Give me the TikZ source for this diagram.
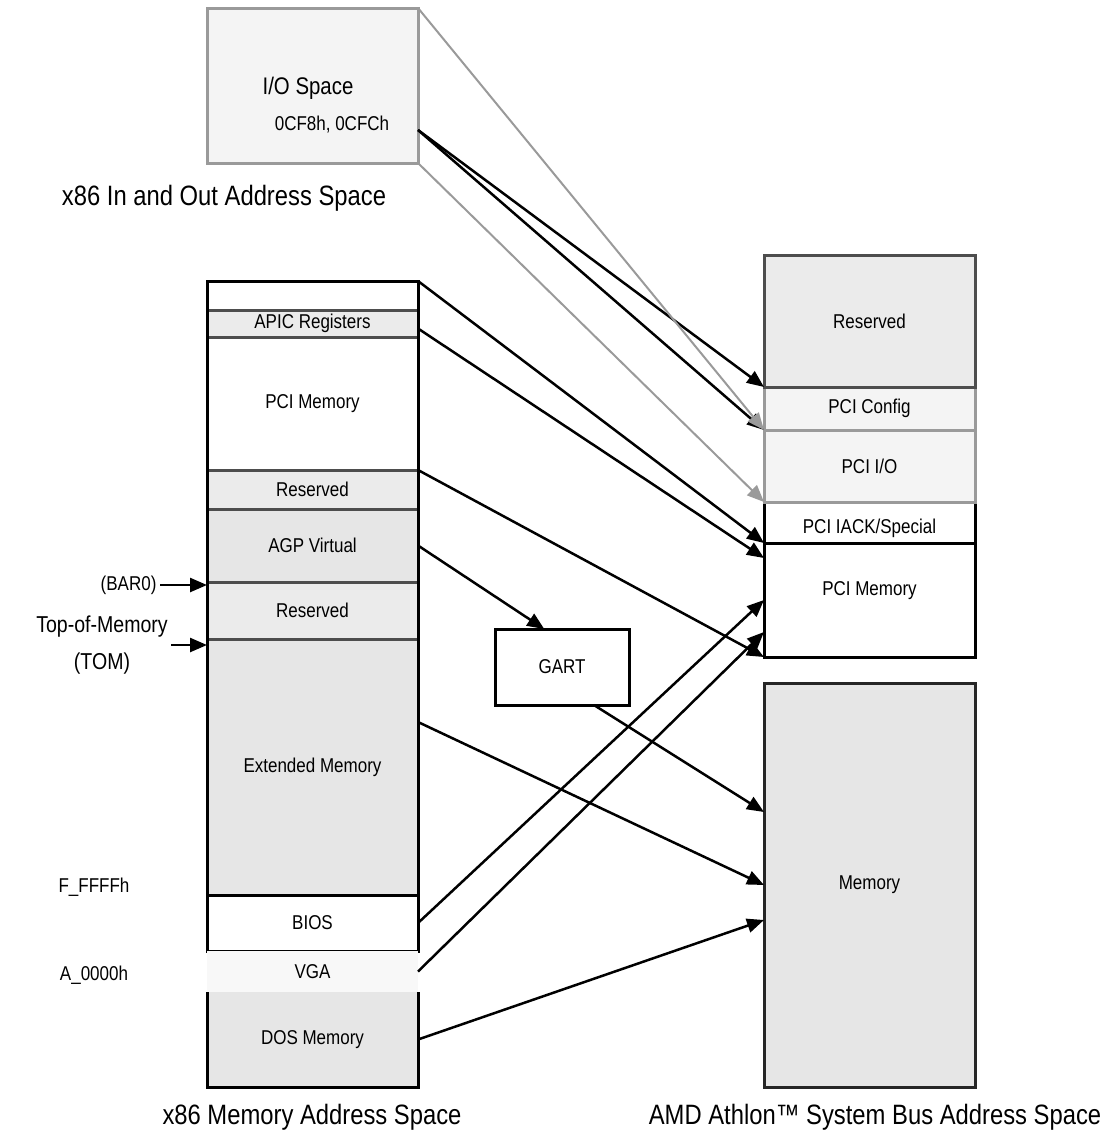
\documentclass[tikz,border=0pt]{standalone}
\usepackage{fontspec}
\setmainfont{Liberation Sans}[FakeStretch=0.85]
\usetikzlibrary{arrows.meta, positioning}

\definecolor{segfill}{HTML}{E6E6E6}
\definecolor{rsvfill}{HTML}{EBEBEB}
\definecolor{iofill}{HTML}{F4F4F4}
\definecolor{vgafill}{HTML}{F8F8F8}
\definecolor{edgedark}{HTML}{4D4D4D}
\definecolor{edgelight}{HTML}{9A9A9A}

\newcommand{\boxfont}{\fontsize{20}{24}\selectfont}
\newcommand{\spacefont}{\fontsize{28}{32}\selectfont}

\begin{document}
\begin{tikzpicture}[
    x=1pt, y=-1pt,
    % regions of the address spaces
    seg/.style={
        rectangle,
        minimum width=211pt,
        inner sep=0pt,
        outer sep=0pt,
        line width=3pt,
        align=center,
        font=\boxfont
    },
    whiteseg/.style={seg, draw=black, fill=white},
    grayseg/.style={seg, draw=edgedark, fill=segfill},
    rsvseg/.style={seg, draw=edgedark, fill=rsvfill},
    ioseg/.style={seg, draw=edgelight, fill=iofill},
    spacelabel/.style={font=\spacefont},
    addrlabel/.style={font=\boxfont},
    arrow/.style={
        -{Triangle[length=17pt, width=14pt]},
        line width=2.5pt,
        draw=black
    },
    grayarrow/.style={
        -{Triangle[length=17pt, width=14pt]},
        line width=2pt,
        draw=edgelight
    }
]
\useasboundingbox (0,0) rectangle (1107,1144);

% --- x86 In and Out Address Space ---
\node[ioseg, minimum height=155pt, anchor=north west] (io) at (207,8) {};
\node[font=\fontsize{24}{28}\selectfont] (iotitle) at (308,88) {I/O Space};
\node[addrlabel] (ports) at (332,125) {0CF8h, 0CFCh};
\node[spacelabel] (iolabel) at (224,198) {x86 In and Out Address Space};

% --- x86 Memory Address Space ---
\node[whiteseg, minimum height=29pt, anchor=north west] (top) at (207,281) {};
\node[rsvseg, minimum height=27pt, below=0pt of top] (apic) {APIC Registers};
\node[seg, draw=edgedark, fill=white, minimum height=133pt, below=0pt of apic] (pcimem) {PCI Memory};
\node[rsvseg, minimum height=39pt, below=0pt of pcimem] (rsvhigh) {Reserved};
\node[grayseg, minimum height=73pt, below=0pt of rsvhigh] (agp) {AGP Virtual};
\node[rsvseg, minimum height=57pt, below=0pt of agp] (rsvlow) {Reserved};
\node[grayseg, minimum height=256pt, below=0pt of rsvlow] (ext) {Extended Memory};
\node[whiteseg, minimum height=56pt, below=0pt of ext] (bios) {BIOS};
\node[seg, fill=vgafill, minimum height=41pt, below=0pt of bios] (vga) {VGA};
\node[seg, fill=segfill, minimum height=95pt, below=0pt of vga] (dos) {DOS Memory};

% column outline
\draw[line width=3pt] (top.north west) -- (bios.south west);
\draw[line width=3pt] (top.north east) -- (bios.south east);
\draw[line width=3pt] (dos.north west) -- (dos.south west) -- (dos.south east) -- (dos.north east);

\node[spacelabel] (memlabel) at (312,1117) {x86 Memory Address Space};

% boundaries
\node[addrlabel, anchor=east] (bar) at (160,585) {(BAR0)};
\node[font=\fontsize{23}{37}\selectfont, align=center] (tom) at (102,645) {Top-of-Memory\\(TOM)};
\node[addrlabel] (fffff) at (94,887) {F\_FFFFh};
\node[addrlabel] (a0000) at (94,975) {A\_0000h};

% --- AMD Athlon System Bus Address Space ---
\node[whiteseg, minimum height=114pt, anchor=north west,
      label={[font=\boxfont, yshift=9pt]center:PCI Memory}] (pcimembus) at (764,543) {};
\node[whiteseg, minimum height=41pt, above=0pt of pcimembus,
      label={[font=\boxfont, yshift=-6pt]center:PCI IACK/Special}] (iack) {};
\node[ioseg, minimum height=72pt, above=0pt of iack] (pciio) {PCI I/O};
\node[ioseg, minimum height=43pt, above=0pt of pciio] (pcicfg) {PCI Config};
\node[rsvseg, minimum height=132pt, above=0pt of pcicfg] (rsvbus) {Reserved};
\node[grayseg, draw=black!85, minimum height=404pt, below=26pt of pcimembus] (mem) {Memory};

\node[spacelabel] (buslabel) at (875,1117) {AMD Athlon™ System Bus Address Space};

% Translation table
\node[whiteseg, minimum width=134pt, minimum height=76pt, anchor=north west] (gart) at (495,629) {GART};

% --- Connections ---
\coordinate (portout) at (io.east |- 0,130);
\draw[arrow] (portout) -- (rsvbus.south west);
\draw[arrow] (portout) -- (pcicfg.south west);
\draw[grayarrow] (io.north east) -- (pcicfg.south west);
\draw[grayarrow] (io.south east) -- (pciio.south west);

\draw[arrow] (top.north east) -- (iack.south west);
\draw[arrow] ([yshift=-5pt]apic.east) -- ([yshift=-15pt]pcimembus.north west);
\draw[arrow] (rsvhigh.north east) -- (pcimembus.south west);
\draw[arrow] (agp.east) -- (gart.115);
\draw[arrow] (gart.-50) -- ([yshift=73pt]mem.west);
\draw[arrow] ([yshift=45pt]ext.east) -- (mem.west);
\draw[arrow] (bios.east) -- (pcimembus.west);
\draw[arrow] (vga.east) -- ([yshift=-32pt]pcimembus.west);
\draw[arrow] (dos.east) -- ([yshift=-35pt]mem.west);

\draw[arrow] (bar.east) -- (bar.east -| rsvlow.west);
\draw[arrow] (tom.east) -- (tom.east -| ext.west);

\end{tikzpicture}
\end{document}
